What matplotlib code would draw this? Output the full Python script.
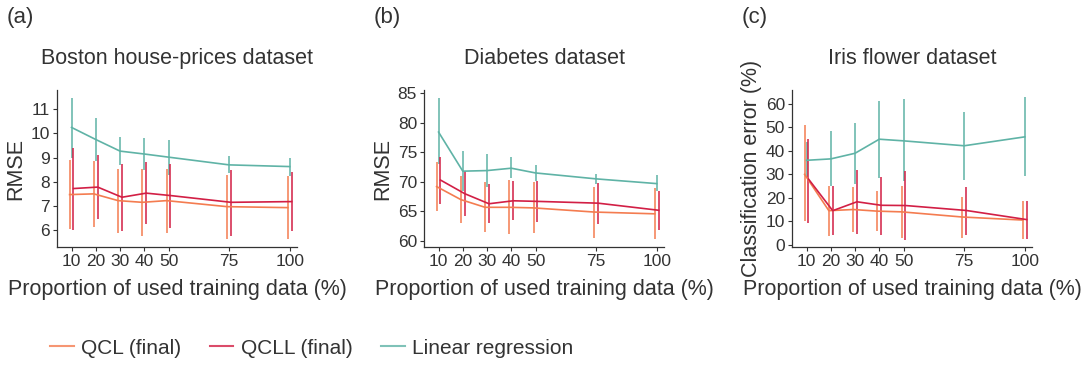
import numpy as np
import matplotlib
matplotlib.use("Agg")
import matplotlib.pyplot as plt
from matplotlib.lines import Line2D

plt.rcParams['font.family'] = ['Liberation Sans', 'DejaVu Sans']
plt.rcParams['text.color'] = '#333333'
plt.rcParams['axes.labelcolor'] = '#333333'
plt.rcParams['xtick.color'] = '#333333'
plt.rcParams['ytick.color'] = '#333333'

x = [10, 20, 30, 40, 50, 75, 100]

# Boston house-prices (RMSE): mean, low, high
bos_qcl = [7.47, 7.50, 7.22, 7.15, 7.22, 6.97, 6.93]
bos_qcl_lo = [6.05, 6.12, 5.90, 5.75, 5.90, 5.62, 5.62]
bos_qcl_hi = [8.90, 8.88, 8.55, 8.55, 8.55, 8.30, 8.25]
bos_qcll = [7.72, 7.78, 7.36, 7.53, 7.43, 7.15, 7.18]
bos_qcll_lo = [6.02, 6.45, 5.98, 6.25, 6.10, 5.75, 5.98]
bos_qcll_hi = [9.38, 9.10, 8.75, 8.80, 8.75, 8.48, 8.40]
bos_lr = [10.25, 9.75, 9.27, 9.15, 9.02, 8.70, 8.63]
bos_lr_lo = [9.00, 8.85, 8.70, 8.50, 8.30, 8.35, 8.25]
bos_lr_hi = [11.48, 10.65, 9.85, 9.80, 9.72, 9.07, 9.00]

# Diabetes (RMSE)
dia_qcl = [69.2, 67.0, 65.7, 65.7, 65.6, 64.9, 64.6]
dia_qcl_lo = [65.1, 63.0, 61.5, 61.2, 61.3, 60.6, 60.3]
dia_qcl_hi = [73.4, 71.0, 70.0, 70.3, 70.0, 69.2, 69.0]
dia_qcll = [70.3, 68.0, 66.3, 66.8, 66.7, 66.4, 65.2]
dia_qcll_lo = [66.3, 64.2, 63.0, 63.6, 63.2, 62.9, 61.8]
dia_qcll_hi = [74.2, 71.8, 69.6, 70.1, 70.1, 69.8, 68.5]
dia_lr = [78.4, 71.8, 71.9, 72.3, 71.5, 70.5, 69.7]
dia_lr_lo = [73.0, 68.4, 69.2, 70.6, 70.1, 69.7, 68.4]
dia_lr_hi = [84.1, 75.2, 74.7, 74.2, 72.9, 71.4, 71.1]

# Iris (classification error %)
iri_qcl = [30.0, 14.5, 15.0, 14.3, 14.0, 11.8, 10.5]
iri_qcl_lo = [10.0, 3.5, 5.3, 6.0, 3.0, 3.0, 2.5]
iri_qcl_hi = [51.0, 25.0, 24.5, 23.0, 25.0, 20.3, 18.5]
iri_qcll = [28.0, 14.5, 18.3, 16.8, 16.7, 14.6, 10.7]
iri_qcll_lo = [9.3, 4.0, 4.5, 4.2, 2.0, 4.3, 2.5]
iri_qcll_hi = [45.3, 25.0, 32.0, 29.0, 31.3, 24.5, 18.5]
iri_lr = [36.0, 36.6, 39.0, 45.0, 44.3, 42.2, 46.0]
iri_lr_lo = [28.5, 25.0, 26.0, 28.5, 27.0, 27.5, 29.3]
iri_lr_hi = [43.8, 48.5, 52.0, 61.5, 62.0, 56.5, 63.0]

c_qcl = '#F47C50'
c_qcll = '#D21F45'
c_lr = '#5FB3A6'

fig = plt.figure(figsize=(10.87, 3.65), dpi=100)

panels = [
    ('(a)', 'Boston house-prices dataset', 'RMSE', [6, 7, 8, 9, 10, 11], (5.3, 11.8),
     (bos_qcl, bos_qcl_lo, bos_qcl_hi), (bos_qcll, bos_qcll_lo, bos_qcll_hi), (bos_lr, bos_lr_lo, bos_lr_hi)),
    ('(b)', 'Diabetes dataset', 'RMSE', [60, 65, 70, 75, 80, 85], (59.0, 85.5),
     (dia_qcl, dia_qcl_lo, dia_qcl_hi), (dia_qcll, dia_qcll_lo, dia_qcll_hi), (dia_lr, dia_lr_lo, dia_lr_hi)),
    ('(c)', 'Iris flower dataset', 'Classification error (%)', [0, 10, 20, 30, 40, 50, 60], (-1, 66),
     (iri_qcl, iri_qcl_lo, iri_qcl_hi), (iri_qcll, iri_qcll_lo, iri_qcll_hi), (iri_lr, iri_lr_lo, iri_lr_hi)),
]
lefts = [57, 424, 792]
W = 1087.0
H = 365.0

for left, (lab, title, ylab, yt, ylim, q, r, l) in zip(lefts, panels):
    ax = fig.add_axes([left / W, 1 - 247 / H, 240 / W, 157 / H])
    xx = np.array(x, dtype=float)
    for (m, lo, hi), c, dx in [(l, c_lr, 0.0), (q, c_qcl, -0.8), (r, c_qcll, 0.8)]:
        m = np.array(m); lo = np.array(lo); hi = np.array(hi)
        ax.plot(xx + dx, m, color=c, lw=1.2, zorder=3)
        ax.errorbar(xx + dx, m, yerr=[m - lo, hi - m], fmt='none', ecolor=c,
                    elinewidth=1.3, capsize=0, alpha=0.85, zorder=2)
    ax.set_xlim(4, 103)
    ax.set_ylim(*ylim)
    ax.set_xticks(x)
    ax.set_yticks(yt)
    ax.tick_params(labelsize=12.5, length=3, width=0.8, pad=2)
    for s in ['top', 'right']:
        ax.spines[s].set_visible(False)
    for s in ['left', 'bottom']:
        ax.spines[s].set_linewidth(0.9)
        ax.spines[s].set_color('#333333')
    ax.set_ylabel(ylab, fontsize=15.5, labelpad=3)
    ax.set_xlabel('Proportion of used training data (%)', fontsize=15.5, labelpad=7)
    ax.set_title(title, fontsize=15.5, pad=19)
    fig.text((left - 50) / W, 1 - 17 / H, lab, fontsize=16, va='center', ha='left')

handles = [Line2D([], [], color=c_qcl, lw=1.5, alpha=0.8),
           Line2D([], [], color=c_qcll, lw=1.5, alpha=0.8),
           Line2D([], [], color=c_lr, lw=1.5, alpha=0.8)]
fig.legend(handles, ['QCL (final)', 'QCLL (final)', 'Linear regression'],
           loc='center left', bbox_to_anchor=(50 / W, 1 - 348 / H), ncol=3,
           frameon=False, fontsize=15, handlelength=1.15, handletextpad=0.35,
           columnspacing=1.35, borderaxespad=0, borderpad=0)

fig.savefig('out.png', dpi=100)
